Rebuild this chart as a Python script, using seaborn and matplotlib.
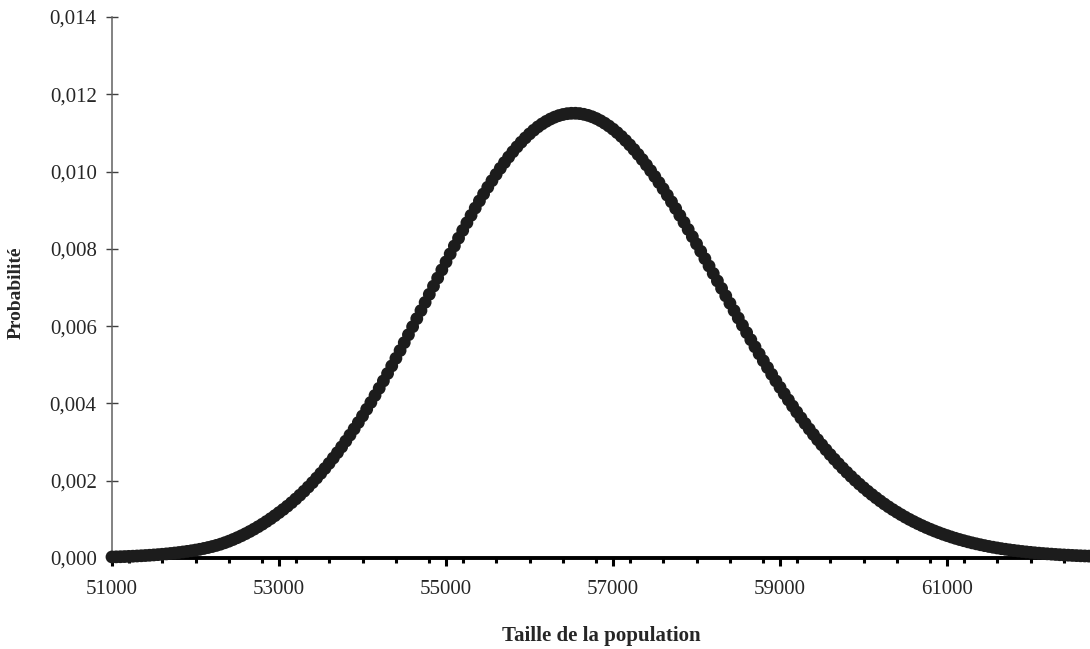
import numpy as np
import seaborn as sns
import matplotlib.pyplot as plt
from matplotlib.ticker import MultipleLocator

# taille de la population (pas de 50) et probabilite
taille = list(range(51000, 62750, 50))
proba = [
    0.000027, 0.000030, 0.000033, 0.000037, 0.000042, 0.000046, 0.000052, 0.000058, 0.000064, 0.000071,
    0.000079, 0.000087, 0.000096, 0.000106, 0.000117, 0.000129, 0.000142, 0.000156, 0.000171, 0.000187,
    0.000205, 0.000225, 0.000247, 0.000271, 0.000297, 0.000326, 0.000358, 0.000395, 0.000435, 0.000479,
    0.000526, 0.000576, 0.000629, 0.000686, 0.000746, 0.000809, 0.000875, 0.000945, 0.001018, 0.001095,
    0.001175, 0.001256, 0.001342, 0.001432, 0.001527, 0.001626, 0.001729, 0.001837, 0.001950, 0.002068,
    0.002190, 0.002317, 0.002449, 0.002586, 0.002727, 0.002874, 0.003025, 0.003181, 0.003341, 0.003506,
    0.003675, 0.003849, 0.004026, 0.004207, 0.004393, 0.004582, 0.004774, 0.004970, 0.005168, 0.005369,
    0.005573, 0.005777, 0.005985, 0.006194, 0.006403, 0.006614, 0.006824, 0.007035, 0.007245, 0.007456,
    0.007663, 0.007870, 0.008075, 0.008277, 0.008478, 0.008675, 0.008867, 0.009056, 0.009241, 0.009421,
    0.009595, 0.009764, 0.009927, 0.010084, 0.010233, 0.010376, 0.010512, 0.010640, 0.010760, 0.010871,
    0.010975, 0.011070, 0.011157, 0.011233, 0.011300, 0.011359, 0.011408, 0.011448, 0.011477, 0.011498,
    0.011508, 0.011509, 0.011501, 0.011482, 0.011455, 0.011418, 0.011372, 0.011316, 0.011252, 0.011179,
    0.011098, 0.011008, 0.010911, 0.010805, 0.010692, 0.010572, 0.010444, 0.010311, 0.010171, 0.010025,
    0.009873, 0.009716, 0.009555, 0.009389, 0.009218, 0.009044, 0.008866, 0.008686, 0.008502, 0.008316,
    0.008129, 0.007938, 0.007747, 0.007556, 0.007363, 0.007170, 0.006977, 0.006784, 0.006592, 0.006400,
    0.006210, 0.006021, 0.005833, 0.005648, 0.005464, 0.005283, 0.005104, 0.004928, 0.004754, 0.004583,
    0.004415, 0.004251, 0.004090, 0.003932, 0.003778, 0.003627, 0.003480, 0.003337, 0.003197, 0.003061,
    0.002930, 0.002802, 0.002677, 0.002557, 0.002440, 0.002327, 0.002218, 0.002113, 0.002011, 0.001913,
    0.001819, 0.001728, 0.001641, 0.001557, 0.001476, 0.001398, 0.001324, 0.001253, 0.001186, 0.001121,
    0.001058, 0.000999, 0.000943, 0.000889, 0.000838, 0.000789, 0.000743, 0.000699, 0.000657, 0.000617,
    0.000580, 0.000544, 0.000510, 0.000478, 0.000448, 0.000419, 0.000392, 0.000367, 0.000343, 0.000320,
    0.000299, 0.000279, 0.000260, 0.000242, 0.000226, 0.000210, 0.000196, 0.000182, 0.000169, 0.000157,
    0.000146, 0.000135, 0.000125, 0.000116, 0.000108, 0.000100, 0.000092, 0.000085, 0.000079, 0.000073,
    0.000067, 0.000062, 0.000057, 0.000053, 0.000049,
]

xticks = [51000, 53000, 55000, 57000, 59000, 61000]
yticks = [0.000, 0.002, 0.004, 0.006, 0.008, 0.010, 0.012, 0.014]
ylabels = ['0,000', '0,002', '0,004', '0,006', '0,008', '0,010', '0,012', '0,014']

sns.set_style('white')
plt.rcParams['font.family'] = ['Liberation Serif', 'DejaVu Serif']

fig = plt.figure(figsize=(10.9, 6.49), dpi=100)
ax = fig.add_axes([112 / 1090, 91 / 649, 1 - 112 / 1090, 541 / 649])

sns.scatterplot(x=taille, y=proba, ax=ax, s=85, color='#1c1c1c',
                edgecolor='none', clip_on=False, zorder=3)

ax.set_xlim(51000, 62712)
ax.set_ylim(0, 0.014)

ax.set_xticks(xticks)
ax.set_xticklabels([str(t) for t in xticks])
ax.xaxis.set_minor_locator(MultipleLocator(400))
ax.set_yticks(yticks)
ax.set_yticklabels(ylabels)

for s in ['top', 'right']:
    ax.spines[s].set_visible(False)
ax.spines['bottom'].set_color('black')
ax.spines['bottom'].set_linewidth(2.8)
ax.spines['left'].set_color('#606060')
ax.spines['left'].set_linewidth(1.1)

ax.tick_params(axis='x', which='both', bottom=True)
ax.tick_params(axis='y', which='both', left=True)
ax.tick_params(axis='x', which='major', direction='out', length=6, width=2.2,
               color='black', labelsize=15, pad=10)
ax.tick_params(axis='x', which='minor', direction='out', length=3.5, width=2.2,
               color='black')
ax.tick_params(axis='y', direction='inout', length=8, width=1, color='#404040',
               labelsize=15, pad=7)

ax.set_xlabel('Taille de la population', fontsize=15, fontweight='bold')
ax.xaxis.set_label_coords(0.5, -0.125)
ax.set_ylabel('Probabilité', fontsize=14, fontweight='bold')
ax.yaxis.set_label_coords(-0.089, 0.49)

fig.savefig('out.png', dpi=100)
